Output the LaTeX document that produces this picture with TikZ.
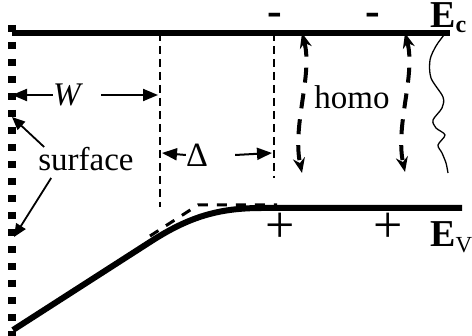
\documentclass[tikz,border=0pt]{standalone}
\usepackage{fontspec}
\setmainfont{Liberation Serif}
\usetikzlibrary{arrows.meta}

\begin{document}
\begin{tikzpicture}[x=1pt, y=-1pt,
  txt/.style={inner sep=0pt, font=\fontsize{33}{36}\selectfont},
  band/.style={line width=6pt},
  bound/.style={line width=2.8pt, dash pattern=on 8pt off 5pt},
  dimarr/.style={line width=2pt, -{Triangle[length=15pt,width=12pt]}},
  surfarr/.style={line width=1.8pt, -{Triangle[length=13pt,width=11pt]}},
  charge/.style={anchor=base, inner sep=0pt},
  hop/.style={line width=4pt, dash pattern=on 15pt off 11pt,
    {Stealth[length=15pt,width=12pt]}-{Stealth[length=15pt,width=12pt]}}]
  \useasboundingbox (0,0) rectangle (472,336);
  % surface (dotted wall) and conduction band
  \draw[line width=8pt, dash pattern=on 7pt off 10pt] (12,25) -- (12,336);
  \draw[band] (12,33) -- (450,33);
  \node[anchor=base west, inner sep=0pt] (Ec) at (430,28)
    {\fontsize{38}{40}\selectfont\bfseries E\raisebox{-5pt}{\fontsize{24}{26}\selectfont c}};
  % valence band, bent near the surface
  \draw[band, line join=round] (13,330) -- (150,242)
    .. controls (190,216) and (220,208) .. (262,208) -- (462,208);
  \draw[line width=3pt, dash pattern=on 10pt off 9pt] (150,236) -- (198,205) -- (277,205);
  \node[anchor=base west, inner sep=0pt] (Ev) at (430,247)
    {\fontsize{38}{40}\selectfont\bfseries E\raisebox{-6pt}{\fontsize{23}{25}\selectfont\mdseries V}};
  % W and Delta boundaries
  \draw[bound] (160,33) -- (160,207);
  \draw[bound] (274,33) -- (274,178);
  \coordinate (wl) at (12,95);
  \coordinate (wr) at (158,95);
  \node[txt] (W) at (68,95) {\textit{W}};
  \draw[dimarr] (W.west) -- (wl);
  \draw[dimarr] ([xshift=18pt]W.east) -- (wr);
  \coordinate (dl) at (162,153);
  \coordinate (dr) at (272,153);
  \node[txt, font=\fontsize{34}{36}\selectfont] (D) at (197,155) {Δ};
  \draw[dimarr] (D.west) -- (dl);
  \draw[dimarr] ([xshift=27pt]D.east) -- (dr);
  % surface label
  \node[txt] (surf) at (86,159) {surface};
  \coordinate (s1) at (12,117);
  \coordinate (s2) at (14,237);
  \draw[surfarr] ([xshift=6pt]surf.north west) -- (s1);
  \draw[surfarr] ([xshift=13pt,yshift=-7pt]surf.south west) -- (s2);
  % homogeneous region: charges and transitions
  \node[charge, font=\fontsize{44}{46}\selectfont\bfseries] (m1) at (275,26) {-};
  \node[charge, font=\fontsize{44}{46}\selectfont\bfseries] (m2) at (373,26) {-};
  \node[charge, font=\fontsize{52}{54}\selectfont] (p1) at (280,243) {+};
  \node[charge, font=\fontsize{52}{54}\selectfont] (p2) at (388,243) {+};
  \node[txt] (homo) at (352,97) {homo};
  \coordinate (h1t) at (302,33);
  \coordinate (h1b) at (302,173);
  \coordinate (h2t) at (405,33);
  \coordinate (h2b) at (405,172);
  \draw[hop] (h1t) .. controls (313,75) and (292,125) .. (h1b);
  \draw[hop] (h2t) .. controls (416,75) and (395,125) .. (h2b);
  % interface roughness
  \draw[line width=1.3pt] plot[smooth] coordinates {(444,35) (436,46) (430,60) (431,78)
    (443,97) (442,108) (433,120) (436,128) (445,135) (438,145) (442,153) (446,163) (448,173)};
\end{tikzpicture}
\end{document}
